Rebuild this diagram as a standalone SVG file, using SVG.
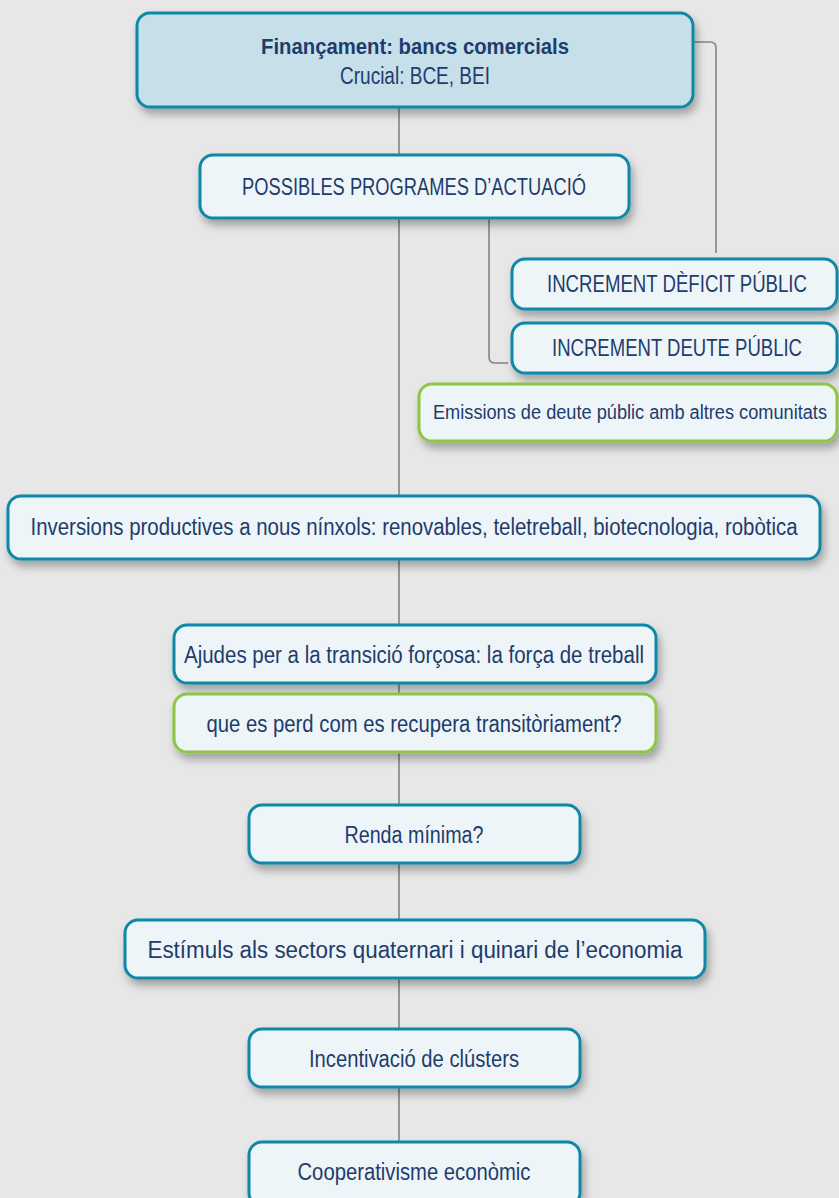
<svg xmlns="http://www.w3.org/2000/svg" width="839" height="1198" viewBox="0 0 839 1198">
<defs>
<filter id="sh" x="-10%" y="-30%" width="125%" height="180%">
<feDropShadow dx="3" dy="6" stdDeviation="4" flood-color="#000" flood-opacity="0.3"/>
</filter>
</defs>
<style>
.box{fill:#eef5f8;stroke:#0c88a7;stroke-width:3;filter:url(#sh)}
.top{fill:#c6dfe9}
.green{stroke:#8dc63f}
.t{font-family:"Liberation Sans Narrow","Liberation Sans",Arial,sans-serif;font-size:23px;fill:#1e3c6c;text-anchor:middle}
.b{font-weight:bold;font-size:22px}
.s{font-size:20px}
.c{fill:none;stroke:#848484;stroke-width:1.6}
</style>
<rect width="839" height="1198" fill="#e7e7e7"/>
<g id="connectors">
<path class="c" d="M399 107 V1142"/>
<path class="c" d="M693 42 H710 Q716 42 716 48 V253"/>
<path class="c" d="M489 219 V357 Q489 363 495 363 H508"/>
</g>
<g id="n1"><rect class="box top" x="137" y="13" width="556" height="94" rx="13"/>
<text class="t b" x="415" y="54" textLength="308" lengthAdjust="spacingAndGlyphs">Finançament: bancs comercials</text>
<text class="t" x="415" y="84" textLength="150" lengthAdjust="spacingAndGlyphs">Crucial: BCE, BEI</text></g>
<g id="n2"><rect class="box" x="200" y="155" width="429" height="63" rx="13"/>
<text class="t" x="414" y="195" textLength="344" lengthAdjust="spacingAndGlyphs">POSSIBLES PROGRAMES D’ACTUACIÓ</text></g>
<g id="n3"><rect class="box" x="512" y="259" width="325" height="50" rx="13"/>
<text class="t" x="677" y="292" textLength="260" lengthAdjust="spacingAndGlyphs">INCREMENT DÈFICIT PÚBLIC</text></g>
<g id="n4"><rect class="box" x="512" y="323" width="325" height="50" rx="13"/>
<text class="t" x="677" y="356" textLength="250" lengthAdjust="spacingAndGlyphs">INCREMENT DEUTE PÚBLIC</text></g>
<g id="n5"><rect class="box green" x="419" y="384" width="418" height="57" rx="13"/>
<text class="t s" x="630" y="419" textLength="394" lengthAdjust="spacingAndGlyphs">Emissions de deute públic amb altres comunitats</text></g>
<g id="n6"><rect class="box" x="8" y="496" width="812" height="63" rx="13"/>
<text class="t" x="414" y="535" textLength="767" lengthAdjust="spacingAndGlyphs">Inversions productives a nous nínxols: renovables, teletreball, biotecnologia, robòtica</text></g>
<g id="n7"><rect class="box" x="174" y="625" width="482" height="58" rx="13"/>
<text class="t" x="414" y="663" textLength="460" lengthAdjust="spacingAndGlyphs">Ajudes per a la transició forçosa: la força de treball</text></g>
<g id="n8"><rect class="box green" x="174" y="694" width="482" height="58" rx="13"/>
<text class="t" x="414" y="732" textLength="415" lengthAdjust="spacingAndGlyphs">que es perd com es recupera transitòriament?</text></g>
<g id="n9"><rect class="box" x="249" y="805" width="331" height="58" rx="13"/>
<text class="t" x="414" y="843" textLength="139" lengthAdjust="spacingAndGlyphs">Renda mínima?</text></g>
<g id="n10"><rect class="box" x="125" y="920" width="580" height="58" rx="13"/>
<text class="t" x="415" y="958" textLength="535" lengthAdjust="spacingAndGlyphs">Estímuls als sectors quaternari i quinari de l’economia</text></g>
<g id="n11"><rect class="box" x="249" y="1029" width="331" height="58" rx="13"/>
<text class="t" x="414" y="1067" textLength="210" lengthAdjust="spacingAndGlyphs">Incentivació de clústers</text></g>
<g id="n12"><rect class="box" x="249" y="1142" width="331" height="64" rx="13"/>
<text class="t" x="414" y="1180" textLength="233" lengthAdjust="spacingAndGlyphs">Cooperativisme econòmic</text></g>
</svg>
